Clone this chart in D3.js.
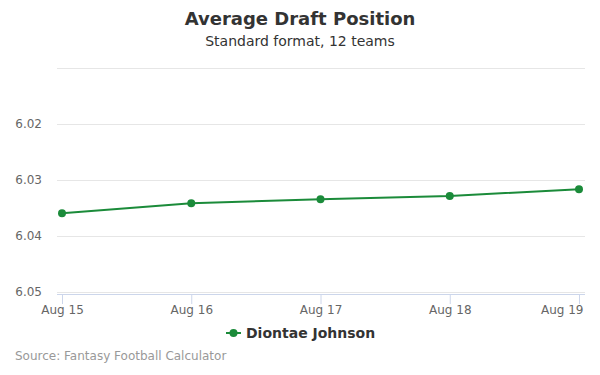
<!DOCTYPE html>
<html><head><meta charset="utf-8">
<script src="https://cdn.jsdelivr.net/npm/d3@7"></script>
<style>body{margin:0;background:#fff}svg{display:block;font-family:"DejaVu Sans",sans-serif}</style>
</head><body>
<svg id="c" width="600" height="375"></svg>
<script>
const categories = ["Aug 15","Aug 16","Aug 17","Aug 18","Aug 19"];
const values = [6.0359, 6.0341, 6.0334, 6.0328, 6.0316];
const yTicks = [6.01, 6.02, 6.03, 6.04, 6.05];
const yLabels = ["", "6.02", "6.03", "6.04", "6.05"];
const seriesName = "Diontae Johnson";
const color = "#1b8b3a";

const svg = d3.select("#c");
const plotL = 57, plotR = 585, plotT = 68.3, plotB = 292.3;
const x = d3.scalePoint().domain(categories).range([62, 579]);
const y = d3.scaleLinear().domain([6.01, 6.05]).range([plotT, plotB]);

svg.append("text").attr("x",300).attr("y",25).attr("text-anchor","middle")
  .attr("font-size",18).attr("font-weight","bold").attr("fill","#333").text("Average Draft Position");
svg.append("text").attr("x",300).attr("y",46).attr("text-anchor","middle")
  .attr("font-size",14).attr("fill","#333").text("Standard format, 12 teams");

const g = svg.append("g");
g.selectAll("line.grid").data(yTicks).join("line").attr("class","grid")
  .attr("x1",plotL).attr("x2",plotR).attr("y1",d=>Math.round(y(d))+0.5).attr("y2",d=>Math.round(y(d))+0.5)
  .attr("stroke","#e6e6e6").attr("stroke-width",1);
g.selectAll("text.yl").data(yTicks).join("text").attr("class","yl")
  .attr("x",42).attr("y",d=>y(d)+4).attr("text-anchor","end")
  .attr("font-size",12).attr("fill","#666").text((d,i)=>yLabels[i]);

// x axis
const xa = svg.append("g").attr("transform",`translate(0,${Math.round(plotB)+2})`)
  .call(d3.axisBottom(x).tickSize(10).tickPadding(5));
xa.select(".domain").attr("stroke","#ccd6eb").attr("d",`M${plotL},0.5H${plotR}`);
xa.selectAll(".tick line").attr("stroke","#ccd6eb");
xa.selectAll(".tick text").attr("font-size",12).attr("fill","#666").attr("font-family","DejaVu Sans, sans-serif").attr("dy","0.45em");
// keep last label inside the chart, as the reference does
xa.selectAll(".tick text").filter(d=>d===categories[categories.length-1])
  .attr("text-anchor","end").attr("x", 583 - x(categories[categories.length-1]));

const line = d3.line().x((d,i)=>x(categories[i])).y(d=>y(d));
svg.append("path").datum(values).attr("d",line).attr("fill","none").attr("stroke",color).attr("stroke-width",2);
svg.selectAll("circle.pt").data(values).join("circle").attr("class","pt")
  .attr("cx",(d,i)=>x(categories[i])).attr("cy",d=>y(d)).attr("r",4).attr("fill",color);

// legend
svg.append("line").attr("x1",226).attr("x2",241).attr("y1",333).attr("y2",333).attr("stroke",color).attr("stroke-width",2);
svg.append("circle").attr("cx",233.5).attr("cy",333).attr("r",4).attr("fill",color);
svg.append("text").attr("x",246).attr("y",338).attr("font-size",14).attr("font-weight","bold").attr("fill","#333").text(seriesName);

svg.append("text").attr("x",15).attr("y",360).attr("font-size",12).attr("fill","#999").text("Source: Fantasy Football Calculator");
</script>
</body></html>
